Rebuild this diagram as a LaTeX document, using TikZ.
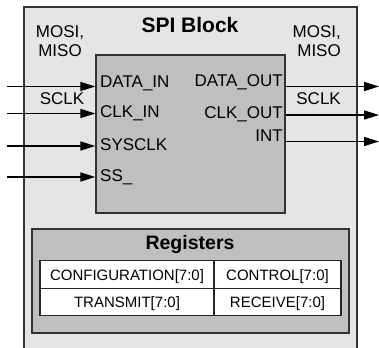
\documentclass[tikz,border=0pt]{standalone}
\usepackage{fontspec}
\setmainfont{Liberation Sans}
\usetikzlibrary{arrows.meta}

\begin{document}
\begin{tikzpicture}[x=1pt,y=1pt,
        box/.style={draw=black!80,line width=1.3pt},
        wire/.style={draw=black,line width=1.6pt,-{Triangle[length=15pt,width=9pt,fill=black]}},
        portlbl/.style={font=\fontsize{17}{19}\selectfont,inner sep=0pt},
        cell/.style={draw=black!85,line width=1.3pt,fill=white,inner sep=0pt,
            minimum height=27.5pt,text height=11pt,text depth=0pt,
            font=\fontsize{15}{17}\selectfont}]
    \useasboundingbox (0,0) rectangle (379,-347);
    % outer block
    \draw[box,fill=black!10] (24,-7) rectangle (357,-350);
    \node[font=\bfseries\fontsize{21}{24}\selectfont,anchor=base] (title) at (190,-33) {SPI Block};
    % core
    \node[box,fill=black!25,minimum width=189pt,minimum height=158pt] (core) at (190.5,-134) {};
    \node[portlbl,anchor=base west] (datain-lbl) at (100,-87.5) {DATA\_IN};
    \node[portlbl,anchor=base west] (clkin-lbl) at (100,-118) {CLK\_IN};
    \node[portlbl,anchor=base west] (sysclk-lbl) at (100,-150) {SYSCLK};
    \node[portlbl,anchor=base west] (ss-lbl) at (100,-181.5) {SS\_};
    \node[portlbl,anchor=base east] (dataout-lbl) at (283,-86.5) {DATA\_OUT};
    \node[portlbl,anchor=base east] (clkout-lbl) at (283,-118.5) {CLK\_OUT};
    \node[portlbl,anchor=base east] (int-lbl) at (283,-142) {INT};
    \node[portlbl,align=center,anchor=base] (mosi-in) at (60,-56.7) {MOSI,\\MISO};
    \node[portlbl,anchor=base] (sclk-in) at (62,-105) {SCLK};
    \node[portlbl,align=right,anchor=base east] (mosi-out) at (341,-56.7) {MOSI,\\MISO};
    \node[portlbl,anchor=base east] (sclk-out) at (341,-105) {SCLK};
    % registers
    \node[box,fill=black!25,minimum width=317pt,minimum height=104pt] (regs) at (190.5,-281) {};
    \node[font=\bfseries\fontsize{19.5}{22}\selectfont,anchor=base] (regs-title) at (190,-249) {Registers};
    \node[cell,minimum width=174pt] (config) at (127,-274.5) {CONFIGURATION[7:0]};
    \node[cell,minimum width=127pt] (control) at (277.5,-274.5) {CONTROL[7:0]};
    \node[cell,minimum width=174pt] (transmit) at (127,-302) {TRANSMIT[7:0]};
    \node[cell,minimum width=127pt] (receive) at (277.5,-302) {RECEIVE[7:0]};
    % ports
    \coordinate (datain) at (7,-86.5);
    \coordinate (clkin) at (7,-113.5);
    \coordinate (sysclk) at (7,-146);
    \coordinate (ss) at (7,-177);
    \coordinate (dataout) at (379,-86.5);
    \coordinate (clkout) at (379,-115);
    \coordinate (int) at (379,-141.5);
    \draw[wire] (datain) -- (core.west |- datain);
    \draw[wire] (clkin) -- (core.west |- clkin);
    \draw[wire] (sysclk) -- (core.west |- sysclk);
    \draw[wire] (ss) -- (core.west |- ss);
    \draw[wire] (core.east |- dataout) -- (dataout);
    \draw[wire] (core.east |- clkout) -- (clkout);
    \draw[wire] (core.east |- int) -- (int);
\end{tikzpicture}
\end{document}
